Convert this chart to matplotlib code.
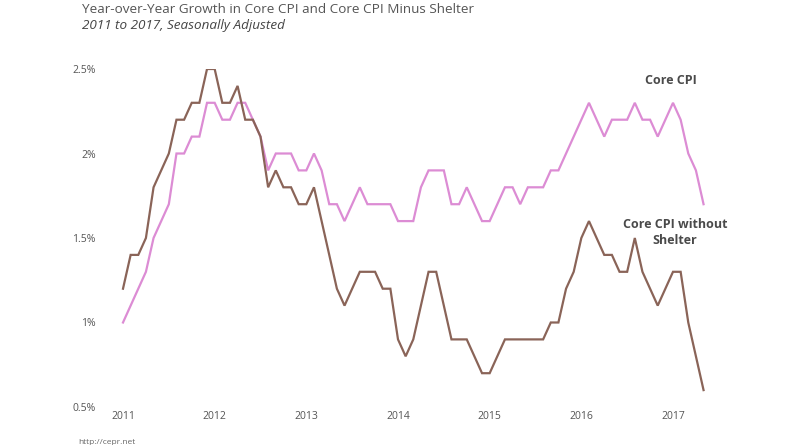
import matplotlib
matplotlib.use("Agg")
import matplotlib.pyplot as plt
import numpy as np

plt.rcParams['font.family'] = ['Open Sans', 'DejaVu Sans']

start_year = 2011
core_cpi = [
    1.0, 1.1, 1.2, 1.3, 1.5, 1.6, 1.7, 2.0, 2.0, 2.1, 2.1, 2.3,
    2.3, 2.2, 2.2, 2.3, 2.3, 2.2, 2.1, 1.9, 2.0, 2.0, 2.0, 1.9,
    1.9, 2.0, 1.9, 1.7, 1.7, 1.6, 1.7, 1.8, 1.7, 1.7, 1.7, 1.7,
    1.6, 1.6, 1.6, 1.8, 1.9, 1.9, 1.9, 1.7, 1.7, 1.8, 1.7, 1.6,
    1.6, 1.7, 1.8, 1.8, 1.7, 1.8, 1.8, 1.8, 1.9, 1.9, 2.0, 2.1,
    2.2, 2.3, 2.2, 2.1, 2.2, 2.2, 2.2, 2.3, 2.2, 2.2, 2.1, 2.2,
    2.3, 2.2, 2.0, 1.9, 1.7,
]
core_ex_shelter = [
    1.2, 1.4, 1.4, 1.5, 1.8, 1.9, 2.0, 2.2, 2.2, 2.3, 2.3, 2.5,
    2.5, 2.3, 2.3, 2.4, 2.2, 2.2, 2.1, 1.8, 1.9, 1.8, 1.8, 1.7,
    1.7, 1.8, 1.6, 1.4, 1.2, 1.1, 1.2, 1.3, 1.3, 1.3, 1.2, 1.2,
    0.9, 0.8, 0.9, 1.1, 1.3, 1.3, 1.1, 0.9, 0.9, 0.9, 0.8, 0.7,
    0.7, 0.8, 0.9, 0.9, 0.9, 0.9, 0.9, 0.9, 1.0, 1.0, 1.2, 1.3,
    1.5, 1.6, 1.5, 1.4, 1.4, 1.3, 1.3, 1.5, 1.3, 1.2, 1.1, 1.2,
    1.3, 1.3, 1.0, 0.8, 0.6,
]
x_ticks = [2011, 2012, 2013, 2014, 2015, 2016, 2017]
y_ticks = [0.5, 1.0, 1.5, 2.0, 2.5]
y_tick_labels = ["0.5%", "1%", "1.5%", "2%", "2.5%"]

x = start_year + np.arange(len(core_cpi)) / 12.0

W, H = 800, 445
fig = plt.figure(figsize=(W / 100, H / 100), dpi=100)
left_px, right_px = 100, 720
top_px, bottom_px = 69, 407
ax = fig.add_axes([left_px / W, (H - bottom_px) / H,
                   (right_px - left_px) / W, (bottom_px - top_px) / H])

px_per_year = (673 - 123) / 6.0
ax.set_xlim(2011 - (123 - left_px) / px_per_year, 2017 + (right_px - 673) / px_per_year)
ax.set_ylim(0.5, 2.5)

pink = "#dc8cd4"
brown = "#8a6458"
ax.plot(x, core_cpi, color=pink, lw=1.6, solid_joinstyle='miter')
ax.plot(x, core_ex_shelter, color=brown, lw=1.6, solid_joinstyle='miter')

for s in ax.spines.values():
    s.set_visible(False)
ax.set_xticks(x_ticks)
ax.set_xticklabels([str(t) for t in x_ticks])
ax.set_yticks(y_ticks)
ax.set_yticklabels(y_tick_labels)
ax.tick_params(axis='both', length=0, labelsize=7.5, labelcolor="#555555")
ax.tick_params(axis='x', pad=3)
ax.tick_params(axis='y', pad=3)
ax.patch.set_alpha(0)

lab_color = "#4a4a4a"
ax.text(2011 + (671 - 123) / px_per_year, 2.5 - (81 - 69) / ((407 - 69) / 2.0),
        "Core CPI", ha='center', va='center', fontsize=9, fontweight='bold', color=lab_color)
ax.text(2011 + (675 - 123) / px_per_year, 2.5 - (232 - 69) / ((407 - 69) / 2.0),
        "Core CPI without\nShelter", ha='center', va='center', fontsize=9,
        fontweight='bold', color=lab_color, linespacing=1.3)

fig.text(82 / W, 1 - 9.5 / H, "Year-over-Year Growth in Core CPI and Core CPI Minus Shelter",
         ha='left', va='center', fontsize=9.7, color="#555555")
fig.text(82 / W, 1 - 26 / H, "2011 to 2017, Seasonally Adjusted",
         ha='left', va='center', fontsize=9.7, color="#444444", style='italic')
fig.text(78 / W, 1 - 442 / H, "http://cepr.net", ha='left', va='center',
         fontsize=6, color="#666666")

fig.savefig("out.png", dpi=100)
